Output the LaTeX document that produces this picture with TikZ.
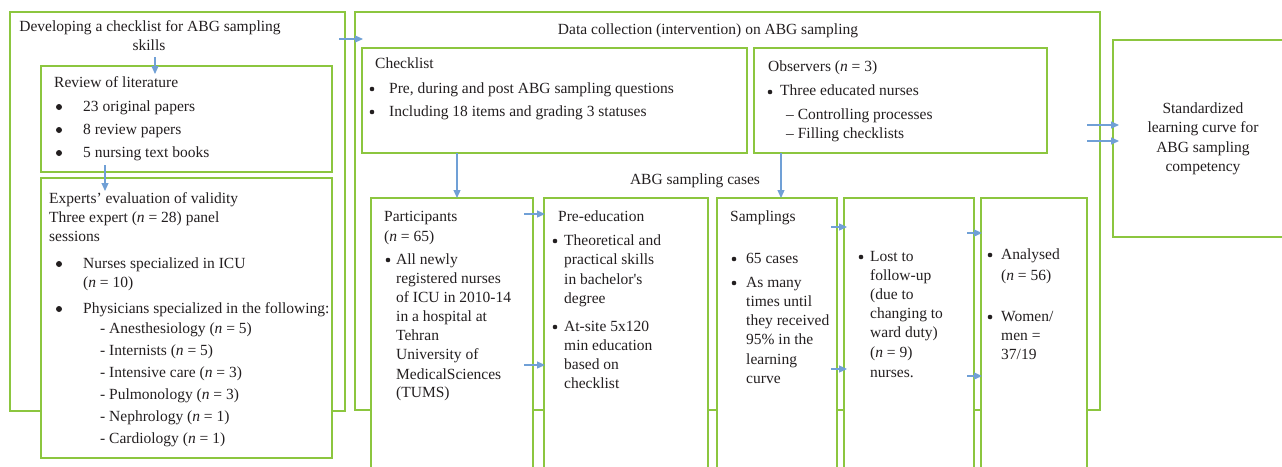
\documentclass[tikz,border=0pt]{standalone}
\usepackage{fontspec}
\setmainfont{Liberation Serif}
\usetikzlibrary{arrows.meta}
\definecolor{gbox}{RGB}{140,198,63}
\definecolor{barrow}{RGB}{112,160,214}
\definecolor{tcol}{RGB}{35,31,32}
\newcounter{tlc}
\newcommand\tline[3]{\stepcounter{tlc}\node[txt,anchor=base west] (tl\arabic{tlc}) at (#1,#2) {#3};}
\newcommand\tcent[3]{\stepcounter{tlc}\node[txt,anchor=base] (tl\arabic{tlc}) at (#1,#2) {#3};}
\newcommand\bigdot[2]{\stepcounter{tlc}\node[dot,minimum size=6pt] (bd\arabic{tlc}) at (#1,#2) {};}
\newcommand\smdot[2]{\stepcounter{tlc}\node[dot,minimum size=4.6pt] (bd\arabic{tlc}) at (#1,#2) {};}
\newcommand\bxn[5]{\node[bx, minimum width={(#4)-(#2)}, minimum height={(#5)-(#3)}] (#1) at (#2,#3) {};}
\tikzset{
  txt/.style={inner sep=0pt, text=tcol, font=\fontsize{15.5pt}{19pt}\selectfont},
  dot/.style={circle, fill=tcol, draw=none, inner sep=0pt},
  bx/.style={draw=gbox, line width=1.5pt, fill=white, inner sep=0pt, outer sep=0pt, anchor=north west},
  arr/.style={draw=barrow, line width=1.2pt, -{Triangle[length=8pt,width=7pt]}}
}
\newcommand\nn{\textit{n}}
\begin{document}
\begin{tikzpicture}[x=1pt,y=-1pt]
\useasboundingbox (0,0) rectangle (1282,466);
\fill[white] (0,0) rectangle (1282,466);
% boxes
\bxn{dev}{10}{12}{345}{411}
\bxn{review}{41}{66}{332}{172}
\bxn{experts}{41}{178}{332}{458}
\bxn{data}{355}{12}{1100}{410}
\bxn{checklist}{362}{48}{747}{153}
\bxn{observers}{754}{48}{1047}{153}
\bxn{participants}{371}{198}{533}{480}
\bxn{preed}{544}{198}{708}{480}
\bxn{samplings}{717}{198}{837}{480}
\bxn{lost}{844}{198}{974}{480}
\bxn{analysed}{981}{198}{1087}{480}
\bxn{std}{1113}{40}{1320}{237}
% left column
\node[txt,anchor=base] (devt1) at (150,31) {Developing a checklist for ABG sampling};
\node[txt,anchor=base] (devt2) at (149,50) {skills};
\tline{54}{87}{Review of literature}
\bigdot{59}{107}\tline{83}{111}{23 original papers}
\bigdot{59}{130}\tline{83}{134}{8 review papers}
\bigdot{59}{153}\tline{83}{157}{5 nursing text books}
\tline{49}{203}{Experts’ evaluation of validity}
\tline{49}{222}{Three expert (\nn{} = 28) panel}
\tline{49}{241}{sessions}
\bigdot{59}{264}\tline{83}{268}{Nurses specialized in ICU}
\tline{83}{287}{(\nn{} = 10)}
\bigdot{59}{309}\tline{83}{313}{Physicians specialized in the following:}
\tline{100}{333}{- Anesthesiology (\nn{} = 5)}
\tline{100}{355}{- Internists (\nn{} = 5)}
\tline{100}{377}{- Intensive care (\nn{} = 3)}
\tline{100}{399}{- Pulmonology (\nn{} = 3)}
\tline{100}{421}{- Nephrology (\nn{} = 1)}
\tline{100}{443}{- Cardiology (\nn{} = 1)}
% middle top
\tcent{708}{34}{Data collection (intervention) on ABG sampling}
\tline{375}{68}{Checklist}
\smdot{372}{89}\tline{389}{93}{Pre, during and post ABG sampling questions}
\smdot{372}{112}\tline{389}{116}{Including 18 items and grading 3 statuses}
\tline{768}{71}{Observers (\nn{} = 3)}
\smdot{770}{92}\tline{780}{95}{Three educated nurses}
\tline{786}{119}{– Controlling processes}
\tline{786}{138}{– Filling checklists}
\tcent{695}{184}{ABG sampling cases}
% participants
\tline{384}{221}{Participants}
\tline{384}{241}{(\nn{} = 65)}
\smdot{388}{260}\tline{396}{264}{All newly}
\tline{396}{283}{registered nurses}
\tline{396}{302}{of ICU in 2010-14}
\tline{396}{321}{in a hospital at}
\tline{396}{340}{Tehran}
\tline{396}{359}{University of}
\tline{396}{379}{MedicalSciences}
\tline{396}{397}{(TUMS)}
% pre-education
\tline{558}{221}{Pre-education}
\smdot{555}{241}\tline{564}{245}{Theoretical and}
\tline{564}{264}{practical skills}
\tline{564}{284}{in bachelor\textquotesingle s}
\tline{564}{303}{degree}
\smdot{555}{327}\tline{564}{331}{At-site 5x120}
\tline{564}{350}{min education}
\tline{564}{369}{based on}
\tline{564}{388}{checklist}
% samplings
\tline{730}{221}{Samplings}
\smdot{734}{259}\tline{746}{263}{65 cases}
\smdot{734}{283}\tline{746}{287}{As many}
\tline{746}{306}{times until}
\tline{746}{325}{they received}
\tline{746}{344}{95\% in the}
\tline{746}{364}{learning}
\tline{746}{383}{curve}
% lost
\smdot{861}{257}\tline{870}{261}{Lost to}
\tline{870}{280}{follow-up}
\tline{870}{299}{(due to}
\tline{870}{318}{changing to}
\tline{870}{337}{ward duty)}
\tline{870}{357}{(\nn{} = 9)}
\tline{870}{377}{nurses.}
% analysed
\smdot{990}{255}\tline{1001}{259}{Analysed}
\tline{1001}{280}{(\nn{} = 56)}
\smdot{990}{317}\tline{1001}{321}{Women/}
\tline{1001}{340}{men =}
\tline{1001}{359}{37/19}
% standardized
\tcent{1203}{113}{Standardized}
\tcent{1203}{132}{learning curve for}
\tcent{1203}{152}{ABG sampling}
\tcent{1203}{171}{competency}
% arrows
\draw[arr] ([xshift=6pt,yshift=-7pt]devt2.south) -- ([xshift=-31.5pt,yshift=-8pt]review.north);
\draw[arr] ([xshift=-81.5pt,yshift=7pt]review.south) -- ([xshift=-81.5pt,yshift=-13pt]experts.north);
\draw[arr] ([xshift=-6pt,yshift=-27pt]dev.north east) -- ([xshift=8pt,yshift=-27pt]data.north west);
\draw[arr] ([xshift=95pt]checklist.south west) -- ([xshift=86pt]participants.north west);
\draw[arr] ([xshift=27pt]observers.south west) -- ([xshift=64pt]samplings.north west);
\draw[arr] ([xshift=-9pt,yshift=-16pt]participants.north east) -- ([xshift=1pt,yshift=-16pt]preed.north west);
\draw[arr] ([xshift=-9pt,yshift=-167pt]participants.north east) -- ([xshift=1pt,yshift=-167pt]preed.north west);
\draw[arr] ([xshift=-6pt,yshift=-29pt]samplings.north east) -- ([xshift=3pt,yshift=-29pt]lost.north west);
\draw[arr] ([xshift=-6pt,yshift=-171pt]samplings.north east) -- ([xshift=3pt,yshift=-171pt]lost.north west);
\draw[arr] ([xshift=-7pt,yshift=-35pt]lost.north east) -- ([xshift=1pt,yshift=-35pt]analysed.north west);
\draw[arr] ([xshift=-7pt,yshift=-178pt]lost.north east) -- ([xshift=1pt,yshift=-178pt]analysed.north west);
\draw[arr] ([xshift=-13pt,yshift=-113pt]data.north east) -- ([xshift=6pt,yshift=-85pt]std.north west);
\draw[arr] ([xshift=-13pt,yshift=-129pt]data.north east) -- ([xshift=6pt,yshift=-101pt]std.north west);
\end{tikzpicture}
\end{document}
